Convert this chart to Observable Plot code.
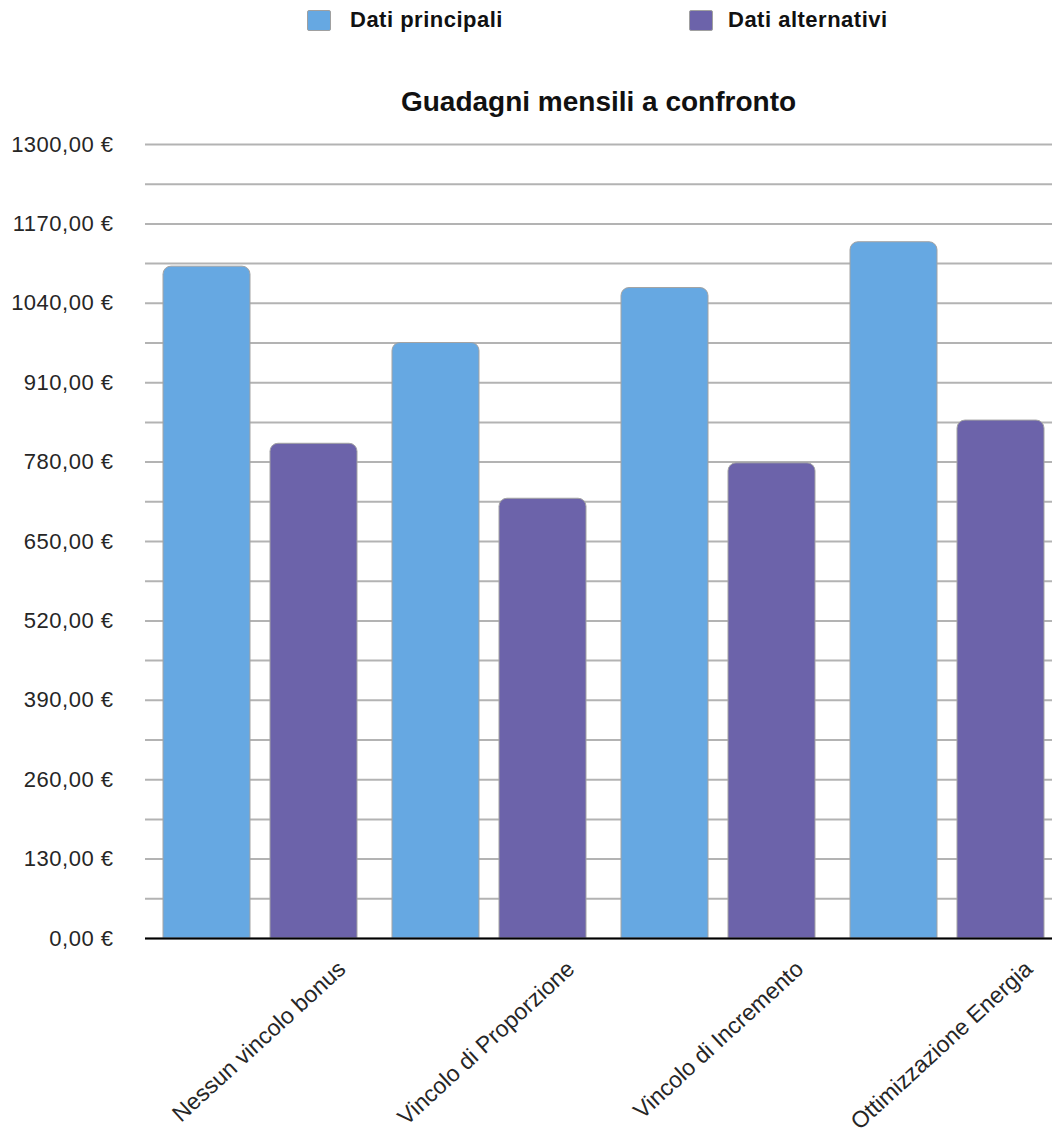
<!DOCTYPE html>
<html>
<head>
<meta charset="utf-8">
<script src="https://cdn.jsdelivr.net/npm/d3@7"></script>
<script src="https://cdn.jsdelivr.net/npm/@observablehq/plot@0.6"></script>
<style>
  html, body { margin: 0; padding: 0; background: #fff; }
  body { width: 1052px; height: 1135px; overflow: hidden; font-family: "Liberation Sans", Arial, sans-serif; }
  #header { position: relative; height: 125px; width: 1052px; }
  .sw { position: absolute; top: 10px; width: 24px; height: 21px; box-sizing: border-box; border: 1px solid #a0a0a0; border-radius: 2px; }
  .lt { position: absolute; top: 9px; font-size: 22px; line-height: 22px; letter-spacing: 0.5px; font-weight: bold; color: #111; white-space: nowrap; }
  #title { position: absolute; top: 88px; left: 145px; width: 907px; text-align: center; font-size: 28px; line-height: 28px; font-weight: bold; color: #111; }
  #chart { width: 1052px; height: 1010px; overflow: hidden; }
  #chart svg { max-width: none !important; height: 1010px !important; display: block; }
  #chart svg [aria-label="y-axis tick label"] text { letter-spacing: 0.5px; }
</style>
</head>
<body>
<div id="header"></div>
<div id="chart"></div>
<script>
const categories = ["Nessun vincolo bonus", "Vincolo di Proporzione", "Vincolo di Incremento", "Ottimizzazione Energia"];
const series = ["Dati principali", "Dati alternativi"];
const principali = [1100, 975, 1065, 1140];
const alternativi = [810, 720, 778, 848];
const yTicks = [0, 130, 260, 390, 520, 650, 780, 910, 1040, 1170, 1300];
const gridLines = [0, 65, 130, 195, 260, 325, 390, 455, 520, 585, 650, 715, 780, 845, 910, 975, 1040, 1105, 1170, 1235, 1300];
const colors = ["#66A8E2", "#6C63AA"];
const titleText = "Guadagni mensili a confronto";

const data = categories.flatMap((c, i) => [
  {cat: c, serie: series[0], value: principali[i]},
  {cat: c, serie: series[1], value: alternativi[i]}
]);

// header: legend + title
const header = document.getElementById("header");
const legendPos = [[307, 350], [689, 728]];
series.forEach((s, i) => {
  const sw = document.createElement("div");
  sw.className = "sw";
  sw.style.left = legendPos[i][0] + "px";
  sw.style.background = colors[i];
  header.appendChild(sw);
  const t = document.createElement("div");
  t.className = "lt";
  t.style.left = legendPos[i][1] + "px";
  t.textContent = s;
  header.appendChild(t);
});
const title = document.createElement("div");
title.id = "title";
title.textContent = titleText;
header.appendChild(title);

const fmt = d => d.toFixed(2).replace(".", ",") + " €";

const chart = Plot.plot({
  width: 1061,
  height: 1010,
  marginLeft: 145,
  marginRight: 0,
  marginTop: 19,
  marginBottom: 197,
  style: {fontFamily: "'Liberation Sans', Arial, sans-serif", background: "#fff", overflow: "visible", maxWidth: "none"},
  fx: {domain: categories, padding: 0, label: null, axis: null},
  x: {domain: series, paddingInner: 0.187, paddingOuter: 0.155, axis: null},
  y: {domain: [0, 1300], label: null},
  color: {domain: series, range: colors},
  marks: [
    Plot.ruleY(gridLines, {stroke: "#b3b3b3", strokeWidth: 2}),
    Plot.barY(data, {fx: "cat", x: "serie", y: "value", fill: "serie", stroke: "#a3a3a3", strokeWidth: 1, ry1: 8}),
    Plot.ruleY([0], {stroke: "#000", strokeWidth: 2}),
    Plot.axisY({ticks: yTicks, tickSize: 0, tickPadding: 32, tickFormat: fmt, fontSize: 22, fill: "#262626", label: null}),
    Plot.axisFx({anchor: "bottom", tickRotate: -42.5, tickSize: 0, tickPadding: 3, fontSize: 23, fill: "#262626", label: null, dx: 82, dy: 24})
  ]
});
document.getElementById("chart").appendChild(chart);
</script>
</body>
</html>
